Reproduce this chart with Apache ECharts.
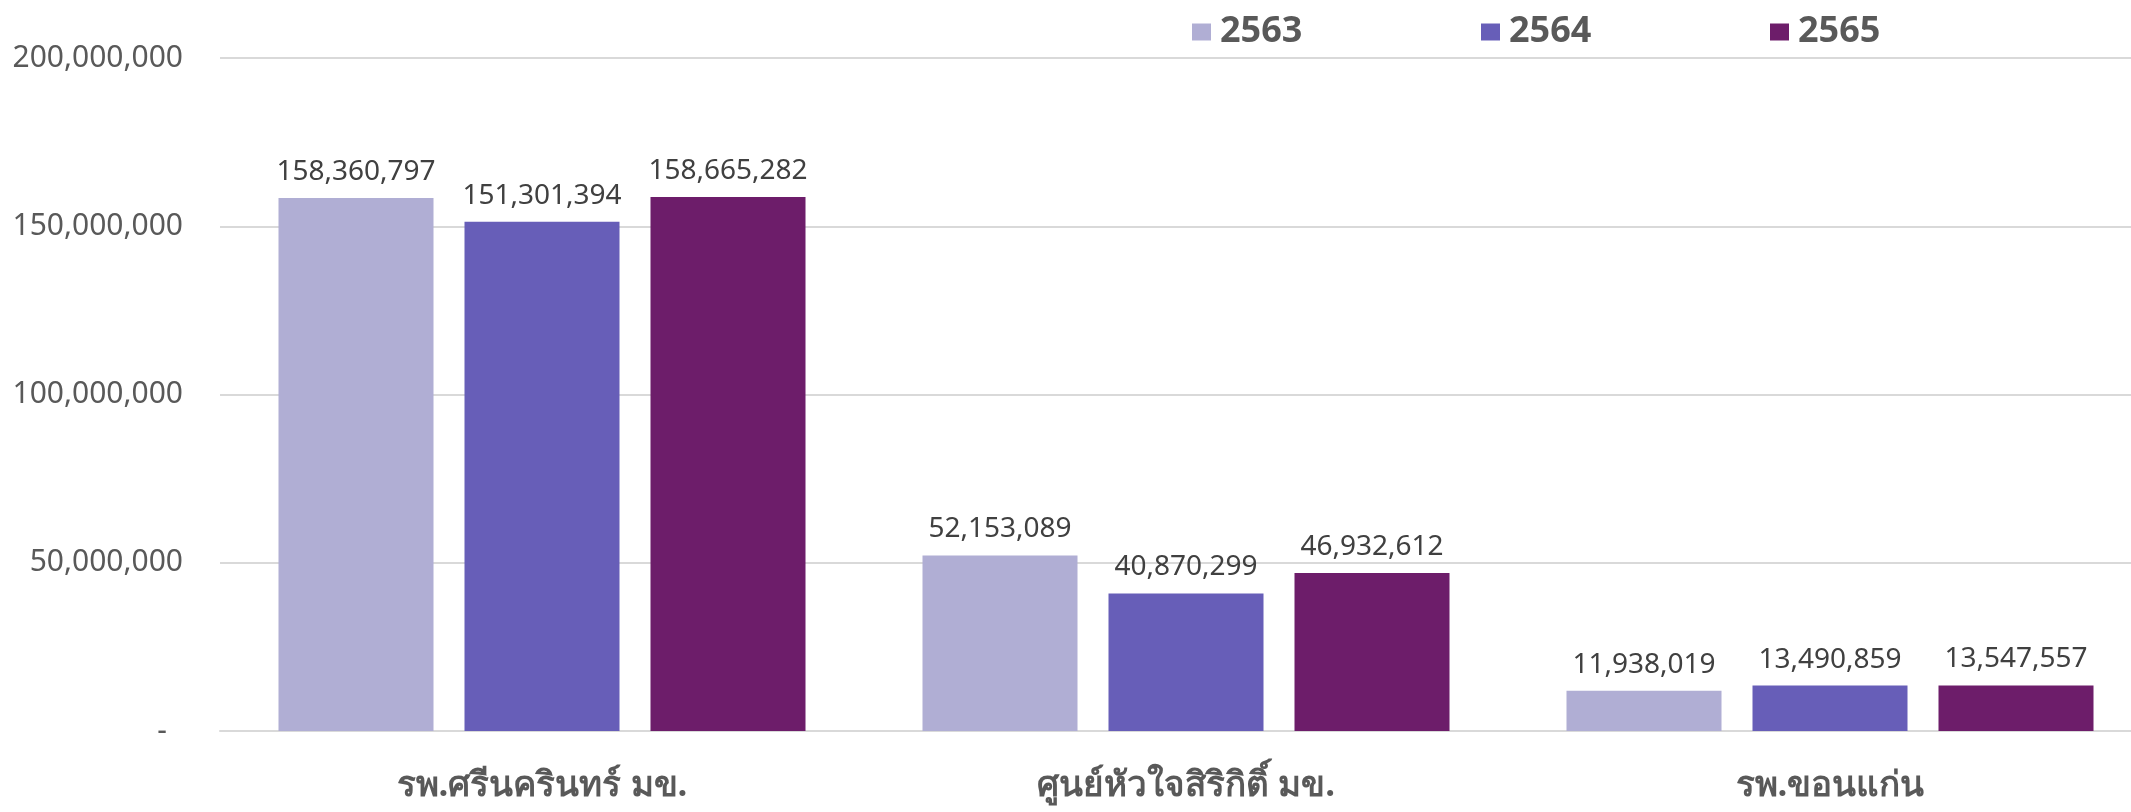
<!DOCTYPE html>
<html>
<head>
<meta charset="utf-8">
<script src="https://cdn.jsdelivr.net/npm/echarts@6/dist/echarts.min.js"></script>
<style>
html,body{margin:0;padding:0;background:#fff;}
#chart{width:2131px;height:812px;}
</style>
</head>
<body>
<div id="chart"></div>
<script>
const categories = ['รพ.ศรีนครินทร์ มข.', 'ศูนย์หัวใจสิริกิติ์ มข.', 'รพ.ขอนแก่น'];
const seriesNames = ['2563', '2564', '2565'];
const values2563 = [158360797, 52153089, 11938019];
const values2564 = [151301394, 40870299, 13490859];
const values2565 = [158665282, 46932612, 13547557];
const colors = ['#B0AED4', '#675EB8', '#6D1D6A'];

const fmt = v => Number(v).toLocaleString('en-US');
const allValues = [values2563, values2564, values2565];

const legendFont = 'bold 36px "Noto Sans"';
const ctx = document.createElement('canvas').getContext('2d');
ctx.font = legendFont;
const legendTextW = ctx.measureText('2563').width;
const legendGap = Math.max(0, 289 - (19 + 5 + 4 + legendTextW));

const chart = echarts.init(document.getElementById('chart'), null, {renderer: 'canvas'});
chart.setOption({
  animation: false,
  backgroundColor: '#ffffff',
  color: colors,
  legend: {
    left: 1187,
    top: 9,
    itemWidth: 19,
    itemHeight: 17,
    itemGap: legendGap,
    icon: 'rect',
    data: seriesNames,
    textStyle: {
      fontFamily: 'Noto Sans',
      fontWeight: 'bold',
      fontSize: 36,
      color: '#595959',
      padding: [0, 0, 0, 4]
    }
  },
  grid: {left: 220, width: 1932, top: 58, bottom: 81, containLabel: false, outerBoundsMode: 'none'},
  xAxis: {
    type: 'category',
    data: categories,
    axisTick: {show: false},
    axisLine: {lineStyle: {color: '#D9D9D9', width: 2}},
    axisLabel: {
      fontSize: 35,
      fontWeight: 'bold',
      color: '#595959',
      margin: 38,
      fontFamily: 'Noto Sans, sans-serif'
    }
  },
  yAxis: {
    type: 'value',
    min: 0,
    max: 200000000,
    interval: 50000000,
    axisLine: {show: false},
    axisTick: {show: false},
    splitLine: {lineStyle: {color: '#D9D9D9', width: 2}},
    axisLabel: {
      fontFamily: 'Noto Sans',
      fontSize: 30,
      color: '#595959',
      margin: 37,
      formatter: v => v === 0 ? '{dash|-}' : fmt(v),
      rich: {dash: {padding: [0, 16, 0, 0], fontSize: 30, color: '#595959'}}
    }
  },
  series: seriesNames.map((name, i) => ({
    name: name,
    type: 'bar',
    data: allValues[i],
    barWidth: 155,
    barGap: '20%',
    itemStyle: {color: colors[i]},
    label: {
      show: true,
      position: 'top',
      distance: 12,
      fontFamily: 'Noto Sans',
      fontSize: 28,
      color: '#404040',
      formatter: p => fmt(p.value)
    }
  }))
});
</script>
</body>
</html>
